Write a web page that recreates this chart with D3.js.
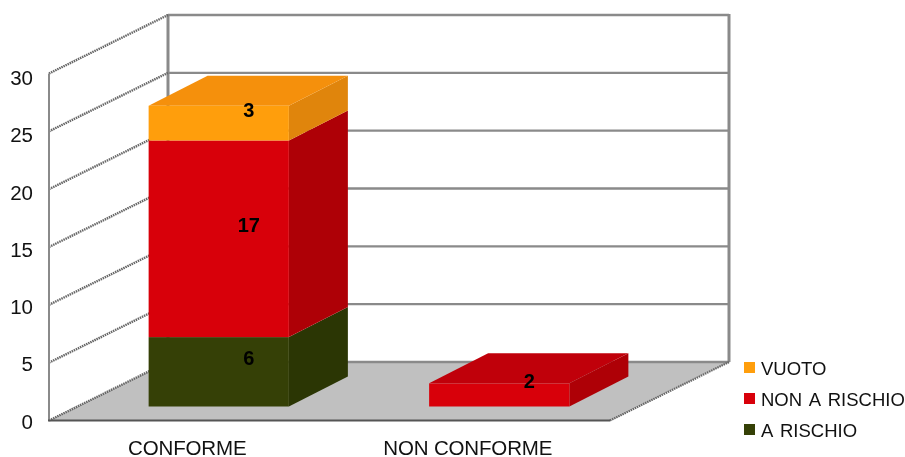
<!DOCTYPE html>
<html>
<head>
<meta charset="utf-8">
<script src="https://cdnjs.cloudflare.com/ajax/libs/d3/7.8.5/d3.min.js"></script>
<style>
html,body{margin:0;padding:0;background:#fff}
svg{display:block;filter:blur(0.35px)}
text{font-family:"Liberation Sans",Arial,sans-serif;fill:#111}
</style>
</head>
<body>
<svg id="c" width="905" height="457"></svg>
<script>
const categories = ["CONFORME", "NON CONFORME"];
const seriesNames = ["A RISCHIO", "NON A RISCHIO", "VUOTO"];
const aRischio = [6, 0];
const nonARischio = [17, 2];
const vuoto = [3, 0];
const yTicks = [0, 5, 10, 15, 20, 25, 30];
const legendOrder = ["VUOTO", "NON A RISCHIO", "A RISCHIO"];

const front = {"A RISCHIO": "#354006", "NON A RISCHIO": "#d8000a", "VUOTO": "#ff9e0c"};
const topC  = {"A RISCHIO": "#2f3a05", "NON A RISCHIO": "#c0000a", "VUOTO": "#f5900c"};
const side  = {"A RISCHIO": "#2b3604", "NON A RISCHIO": "#ae0006", "VUOTO": "#e0850c"};

const svg = d3.select("#c");
const y = d3.scaleLinear().domain([0, 30]).range([420.5, 73.5]);
const yLabel = d3.scaleLinear().domain([0, 30]).range([421.5, 78]);
const x = d3.scaleBand().domain(categories).range([49, 610]).paddingInner(0.5).paddingOuter(0.25);
const wallDx = 119, wallDy = -58.5;
const barDx = 59, barDy = -30, barShiftX = 29.5, barShiftY = -14;
const poly = pts => pts.map(p => p.join(",")).join(" ");

// floor
svg.append("polygon")
  .attr("points", poly([[49,y(0)],[610,y(0)],[610+wallDx,y(0)+wallDy],[49+wallDx,y(0)+wallDy]]))
  .attr("fill", "#c0c0c0");

// left wall and back wall grid
const grid = svg.append("g");
grid.selectAll(".back").data(yTicks).join("line")
  .attr("x1", 49+wallDx).attr("x2", 610+wallDx)
  .attr("y1", d => y(d)+wallDy).attr("y2", d => y(d)+wallDy)
  .attr("stroke", "#8a8a8a").attr("stroke-width", 2.4);
const wallTop = y(30)+wallDy;
grid.append("line").attr("x1",49+wallDx).attr("x2",49+wallDx)
  .attr("y1",wallTop-1).attr("y2",y(0)+wallDy).attr("stroke","#8a8a8a").attr("stroke-width",3);
grid.append("line").attr("x1",610+wallDx).attr("x2",610+wallDx)
  .attr("y1",wallTop-1).attr("y2",y(0)+wallDy).attr("stroke","#8a8a8a").attr("stroke-width",3);
grid.selectAll(".diag").data(yTicks).join("line")
  .attr("x1", 49).attr("x2", 49+wallDx)
  .attr("y1", d => y(d)).attr("y2", d => y(d)+wallDy)
  .attr("stroke", "#666").attr("stroke-width", 2.4).attr("stroke-dasharray","1.5 0.8");
grid.append("line").attr("x1",610).attr("x2",610+wallDx)
  .attr("y1",y(0)).attr("y2",y(0)+wallDy)
  .attr("stroke","#666").attr("stroke-width",2.2).attr("stroke-dasharray","1.5 0.8");
grid.append("line").attr("x1",49).attr("x2",49).attr("y1",y(30)).attr("y2",y(0))
  .attr("stroke","#8a8a8a").attr("stroke-width",2);
grid.append("line").attr("x1",48).attr("x2",610).attr("y1",y(0)).attr("y2",y(0))
  .attr("stroke","#555").attr("stroke-width",2);

// axes labels
const yAxis = d3.axisLeft(yLabel).tickValues(yTicks).tickSize(0).tickPadding(16);
const gy = svg.append("g").attr("transform","translate(49,0)").call(yAxis);
gy.select(".domain").remove();
gy.selectAll("text").attr("font-size",20.5).attr("fill","#111")
  .style("font-family",'"Liberation Sans",Arial,sans-serif');

const xAxis = d3.axisBottom(x).tickSize(0).tickPadding(20);
const gx = svg.append("g").attr("transform","translate(-2,420)").call(xAxis);
gx.select(".domain").remove();
gx.selectAll("text").attr("font-size",20.5).attr("fill","#111").attr("letter-spacing",-0.15)
  .style("font-family",'"Liberation Sans",Arial,sans-serif');

// stacked 3D bars
const table = categories.map((c,i) => ({
  cat: c, "A RISCHIO": aRischio[i], "NON A RISCHIO": nonARischio[i], "VUOTO": vuoto[i]
}));
const stacked = d3.stack().keys(seriesNames)(table);
const bars = svg.append("g");
stacked.forEach(s => {
  s.forEach(d => {
    if (d[1] === d[0]) return;
    const name = s.key;
    const xl = x(d.data.cat) + barShiftX, xr = xl + x.bandwidth();
    const yb = y(d[0]) + barShiftY, yt = y(d[1]) + barShiftY;
    const isTop = d[1] === d3.sum(seriesNames, k => d.data[k]);
    const g = bars.append("g");
    g.append("polygon").attr("points", poly([[xr,yb],[xr+barDx,yb+barDy],[xr+barDx,yt+barDy],[xr,yt]]))
      .attr("fill", side[name]);
    if (isTop) g.append("polygon").attr("points", poly([[xl,yt],[xr,yt],[xr+barDx,yt+barDy],[xl+barDx,yt+barDy]]))
      .attr("fill", topC[name]);
    g.append("rect").attr("x",xl).attr("y",yt).attr("width",xr-xl).attr("height",yb-yt)
      .attr("fill", front[name]);
  });
});
// value labels
stacked.forEach(s => {
  s.forEach(d => {
    const v = d[1]-d[0];
    if (!v) return;
    const cx = x(d.data.cat) + barShiftX + x.bandwidth()/2 + 30;
    const cy = y((d[0]+d[1])/2) + barShiftY + barDy/2 + 8.5;
    bars.append("text").attr("x",cx).attr("y",cy).attr("text-anchor","middle")
      .attr("font-size",20).attr("font-weight","bold").attr("fill","#000").style("fill","#000").text(v);
  });
});

// legend
const ly = d3.scalePoint().domain(legendOrder).range([368, 430]);
const lg = svg.append("g").selectAll("g").data(legendOrder).join("g")
  .attr("transform", d => `translate(744,${ly(d)})`);
lg.append("rect").attr("x",0).attr("y",-6).attr("width",11).attr("height",11)
  .attr("fill", d => front[d]);
lg.append("text").attr("x",17).attr("y",7).attr("font-size",18.5).attr("word-spacing",2.5).text(d => d);
</script>
</body>
</html>
